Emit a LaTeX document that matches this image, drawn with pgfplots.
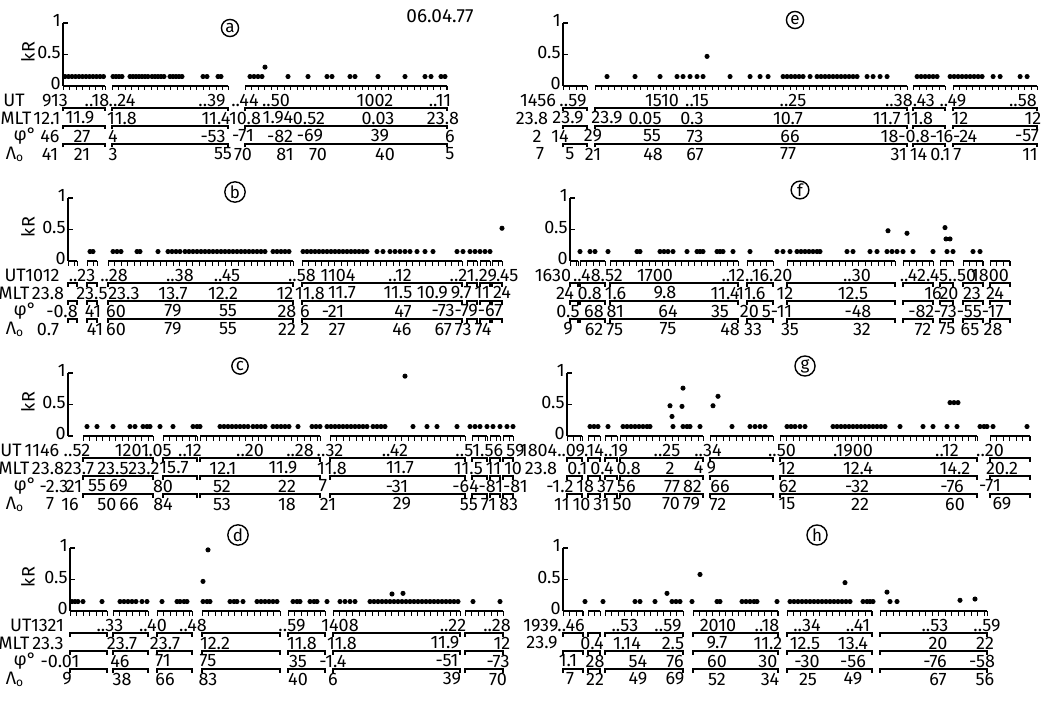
\documentclass[border=0pt]{standalone}
\usepackage{fontspec}
\setmainfont{Fira Sans}[Numbers=Proportional]
\usepackage{pgfplots}
\pgfplotsset{compat=1.18}
\newcommand{\lf}{\fontsize{9}{9.5}\selectfont}
\tikzset{lab/.style={font=\lf, inner sep=0pt},
  axl/.style={line width=0.8pt},
  tkl/.style={line width=0.5pt},
  brl/.style={line width=0.55pt}}
\pgfplotsset{panel/.style={scale only axis, axis x line=none, axis y line*=left,
  xtick=\empty, ymin=0, ymax=1, ytick={0,0.5,1}, yticklabels={0,0.5,1},
  height=31.5pt, anchor=south west, clip=false,
  axis line style={line width=0.8pt}, tick style={black, line width=0.6pt},
  major tick length=2.5pt, yticklabel style={font=\lf, inner sep=1pt, yshift=1.2pt}},
  dots/.style={only marks, mark=*, mark size=1.05pt, black}}
\newcommand\row[2]{\foreach \x/\t in {#2}{\node[lab] at (\x,#1) {\t};}}
\newcommand\panelann[2]{%
 \foreach \a/\b in {#2}{%
   \draw[axl] (\a,#1) -- (\b,#1);
   \pgfmathtruncatemacro\nt{(\b-\a)/6.5}
   \foreach \i in {0,...,\nt}{\draw[tkl] ({\a+\i*6.5},#1) -- ({\a+\i*6.5},{#1+4.5});}
   \draw[tkl] (\b,#1) -- (\b,{#1+4.5});
   \foreach \d in {22,40,58}{\draw[brl] (\a,{#1+\d+3.5}) -- (\a,{#1+\d}) -- (\b,{#1+\d}) -- (\b,{#1+\d+3.5});}
 }}
\begin{document}
\begin{tikzpicture}
\useasboundingbox (0,0) rectangle (528pt,-350.5pt);
% ---------- panel a
\begin{axis}[panel, at={(31.5pt,-43pt)}, width=192pt, xmin=63, xmax=447]
\addplot[dots] coordinates {(65,0.15)(68.5,0.15)(72,0.15)(75.5,0.15)(79,0.15)(82.5,0.15)(86,0.15)(89.5,0.15)(93,0.15)(96.5,0.15)(100,0.15)(103.5,0.15)
(113,0.15)(116,0.15)(119,0.15)(122,0.15)(130,0.15)(133,0.15)(136,0.15)(139,0.15)(142,0.15)(145,0.15)(148,0.15)
(152,0.15)(155,0.15)(158,0.15)(161,0.15)(164,0.15)(170,0.15)(173,0.15)(176,0.15)(179,0.15)(182,0.15)
(203,0.15)(207,0.15)(218,0.15)(221,0.15)(250,0.15)(254,0.15)(258,0.15)(262,0.15)(265,0.3)
(288,0.15)(308,0.15)(327,0.15)(332,0.15)(350,0.15)(355,0.15)(378,0.15)(405,0.15)(425,0.15)(431,0.15)(441,0.15)(445,0.15)};
\end{axis}
% ---------- panel b
\begin{axis}[panel, at={(34pt,-130.5pt)}, width=217pt, xmin=68, xmax=502]
\addplot[dots] coordinates {(90,0.15)(93,0.15)(113,0.15)(117,0.15)(121,0.15)(137,0.15)(140,0.15)(158,0.15)(168,0.15)(172,0.15)(176,0.15)(180,0.15)
(185,0.15)(189,0.15)(193,0.15)(197,0.15)(201,0.15)(205,0.15)(209,0.15)(213,0.15)(217,0.15)(221,0.15)(225,0.15)(229,0.15)(233,0.15)(237,0.15)(241,0.15)(245,0.15)(249,0.15)(253,0.15)(257,0.15)(261,0.15)(265,0.15)
(273,0.15)(277,0.15)(281,0.15)(285,0.15)(289,0.15)
(303,0.15)(307,0.15)(311,0.15)(315,0.15)(319,0.15)(323,0.15)(327,0.15)(331,0.15)(335,0.15)(339,0.15)(343,0.15)(347,0.15)(351,0.15)(355,0.15)(359,0.15)(363,0.15)(367,0.15)
(377,0.15)(383,0.15)(390,0.15)(395,0.15)(400,0.15)(405,0.15)(410,0.15)(417,0.15)(425,0.15)(433,0.15)(457,0.15)(463,0.15)
(470,0.15)(475,0.15)(480,0.15)(485,0.15)(490,0.15)(502,0.52)};
\end{axis}
% ---------- panel c
\begin{axis}[panel, at={(34pt,-218pt)}, width=222.5pt, xmin=68, xmax=513]
\addplot[dots] coordinates {(87,0.15)(97,0.15)(113,0.15)(130,0.15)(135,0.15)(143,0.15)(147,0.15)(150,0.15)(160,0.15)(173,0.15)(193,0.15)(197,0.15)(200,0.15)
(220,0.15)(224,0.15)(228,0.15)(232,0.15)(236,0.15)(240,0.15)(244,0.15)(248,0.15)(253,0.15)(257,0.15)(261,0.15)(265,0.15)
(273,0.15)(277,0.15)(281,0.15)(285,0.15)(289,0.15)(298,0.15)(312,0.15)(316,0.15)(320,0.15)
(327,0.15)(331,0.15)(335,0.15)(339,0.15)(343,0.15)(347,0.15)(351,0.15)(355,0.15)(359,0.15)(363,0.15)(367,0.15)
(373,0.15)(377,0.15)(381,0.15)(385,0.15)(413,0.15)(427,0.15)(437,0.15)(457,0.15)(470,0.15)(475,0.15)(480,0.15)
(487,0.15)(493,0.15)(500,0.15)(507,0.15)(513,0.15)(405,0.95)};
\end{axis}
% ---------- panel d
\begin{axis}[panel, at={(35pt,-305.5pt)}, width=216.5pt, xmin=70, xmax=503]
\addplot[dots] coordinates {(72,0.15)(75,0.15)(78,0.15)(83,0.15)(102,0.15)(120,0.15)(124,0.15)(128,0.15)(132,0.15)(136,0.15)(142,0.15)(147,0.15)
(162,0.15)(177,0.15)(180,0.15)(184,0.15)(187,0.15)(203,0.15)(207,0.15)(210,0.15)(230,0.15)(234,0.15)(237,0.15)(243,0.15)
(257,0.15)(261,0.15)(265,0.15)(269,0.15)(273,0.15)(277,0.15)(293,0.15)(297,0.15)(300,0.15)(310,0.15)(314,0.15)(317,0.15)(327,0.15)
(340,0.15)(345,0.15)(350,0.15)(355,0.15)(370,0.15)(374,0.15)(378,0.15)(382,0.15)(386,0.15)(390,0.15)(394,0.15)(398,0.15)(402,0.15)(406,0.15)
(410,0.15)(414,0.15)(418,0.15)(422,0.15)(426,0.15)(430,0.15)(434,0.15)(438,0.15)(442,0.15)(446,0.15)(450,0.15)(454,0.15)(458,0.15)
(473,0.15)(500,0.15)(208,0.97)(203,0.47)(392,0.27)(403,0.28)};
\end{axis}
% ---------- panel e
\begin{axis}[panel, at={(281.5pt,-43pt)}, width=237pt, xmin=563, xmax=1037]
\addplot[dots] coordinates {(607,0.15)(635,0.15)(660,0.15)(677,0.15)(683,0.15)(690,0.15)(697,0.15)(703,0.15)(707,0.47)
(730,0.15)(750,0.15)(760,0.15)(768,0.15)(783,0.15)(787,0.15)(791,0.15)(795,0.15)(799,0.15)(803,0.15)(810,0.15)
(817,0.15)(821,0.15)(825,0.15)(829,0.15)(833,0.15)(837,0.15)(841,0.15)(845,0.15)(849,0.15)(853,0.15)(857,0.15)
(867,0.15)(873,0.15)(880,0.15)(887,0.15)(917,0.15)(921,0.15)(925,0.15)(929,0.15)(933,0.15)(937,0.15)
(950,0.15)(954,0.15)(958,0.15)(962,0.15)(966,0.15)(970,0.15)(974,0.15)(978,0.15)(982,0.15)(993,0.15)(1000,0.15)(1020,0.15)(1027,0.15)};
\end{axis}
% ---------- panel f
\begin{axis}[panel, at={(285pt,-130.5pt)}, width=220pt, xmin=570, xmax=1010]
\addplot[dots] coordinates {(580,0.15)(590,0.15)(595,0.15)(608,0.15)(637,0.15)(640,0.15)(660,0.15)(664,0.15)(668,0.15)(673,0.15)(687,0.15)
(697,0.15)(700,0.15)(703,0.15)(717,0.15)(720,0.15)(723,0.15)(733,0.15)(750,0.15)(777,0.15)(783,0.15)(790,0.15)
(797,0.15)(801,0.15)(805,0.15)(809,0.15)(813,0.15)(817,0.15)(820,0.15)(847,0.15)(853,0.15)(870,0.15)(877,0.15)
(887,0.15)(892,0.15)(897,0.15)(903,0.15)(913,0.15)(933,0.15)(947,0.15)(953,0.15)(973,0.15)(980,0.15)
(888,0.48)(907,0.44)(945,0.53)(946,0.35)(950,0.35)};
\end{axis}
% ---------- panel g
\begin{axis}[panel, at={(283.5pt,-218pt)}, width=231.5pt, xmin=567, xmax=1030]
\addplot[dots] coordinates {(590,0.15)(594,0.15)(598,0.15)(608,0.15)(623,0.15)(627,0.15)(631,0.15)(635,0.15)(639,0.15)(643,0.15)(647,0.15)(650,0.15)
(673,0.15)(683,0.15)(687,0.15)(690,0.15)(700,0.15)(732,0.15)(750,0.15)(755,0.15)(760,0.15)(765,0.15)
(787,0.15)(791,0.15)(795,0.15)(800,0.15)(805,0.15)(833,0.15)(837,0.15)(841,0.15)(845,0.15)(849,0.15)(853,0.15)(857,0.15)
(861,0.15)(865,0.15)(869,0.15)(873,0.15)(877,0.15)(881,0.15)(885,0.15)(900,0.15)(923,0.15)(933,0.15)(947,0.15)(957,0.15)
(980,0.15)(984,0.15)(987,0.15)(993,0.15)(1027,0.15)
(670,0.48)(672,0.31)(682,0.47)(683,0.76)(713,0.48)(718,0.63)(950,0.53)(954,0.53)(958,0.53)};
\end{axis}
% ---------- panel h
\begin{axis}[panel, at={(281.5pt,-305.5pt)}, width=212pt, xmin=563, xmax=987]
\addplot[dots] coordinates {(585,0.15)(603,0.15)(635,0.15)(640,0.15)(655,0.15)(672,0.15)(676,0.15)(680,0.15)(692,0.15)(717,0.15)(720,0.15)
(742,0.15)(746,0.15)(750,0.15)(754,0.15)(757,0.15)(777,0.15)(790,0.15)(794,0.15)(798,0.15)(802,0.15)(806,0.15)(810,0.15)
(814,0.15)(818,0.15)(822,0.15)(826,0.15)(830,0.15)(834,0.15)(838,0.15)(842,0.15)(846,0.15)(850,0.15)
(863,0.15)(867,0.15)(870,0.15)(873,0.15)(890,0.15)(897,0.15)(960,0.17)(975,0.19)
(667,0.28)(700,0.58)(845,0.45)(887,0.3)};
\end{axis}
% ---------- annotations in pixel units
\begin{scope}[x=0.5pt,y=-0.5pt]
\panelann{86}{63/105,112/228,245/447}
\panelann{261}{68/77,87/97,108/293,302/462,467/477,480/490,492/502}
\panelann{436}{83/153,163/197,200/320,330/465,472/487,490/500,503/513}
\panelann{611}{70/107,113/148,157/192,202/280,288/325,333/460,465/503}
\panelann{86}{563/587,595/907,913/945,953/1037}
\panelann{261}{570/578,580/605,610/738,747/773,787/895,903/933,940/953,963/983,990/1010}
\panelann{436}{567/582,588/600,605/617,620/703,710/773,780/977,990/1030}
\panelann{611}{563/583,588/600,605/683,693/778,787/872,880/987}
% kR labels and row symbols
\foreach \y in {86,261,436,611}{%
  \node[lab,rotate=90] at (28,{\y-34}) {kR};
  \node[lab] at (25,{\y+50}) {φ°};
  \node[lab] at (15,{\y+68}) {Λ\textsubscript{o}};}
% panel letters
\foreach \x/\y/\l in {230/28/a,795/20/e,235/192/b,800/190/f,240/366/c,805/366/g,238/535/d,817/535/h}{%
  \node[draw,circle,inner sep=0.7pt,line width=0.7pt,font=\fontsize{8.5}{8.5}\selectfont] at (\x,\y) {\l};}
\node[font=\fontsize{9.5}{9.5}\selectfont, inner sep=0] at (440,16) {06.04.77};
% panel a rows
\row{100.5}{14/UT, 55/913, 97/..18, 122/..24, 212/..39, 245/..44, 276/..50, 375/1002, 440/..11}
\row{118}{16/MLT, 47/12.1, 80/11.9, 122/11.8, 216/11.4, 245/10.8, 278/1.94, 309/0.52, 378/0.03, 443/23.8}
\row{136}{50/46, 82/27, 113/4, 213/-53, 243/-71, 280/-82, 310/-69, 380/39, 450/6}
\row{154}{50/41, 82/21, 113/3, 223/55, 243/70, 285/81, 318/70, 385/40, 450/5}
% panel b rows
\row{275.5}{32/UT1012, 82/..23, 114/..28, 180/..38, 227/..45, 302/..58, 338/1104, 400/..12, 484/..21.29.45}
\row{293}{14/MLT, 48/23.8, 92/23.5, 124/23.3, 173/13.7, 223/12.2, 285/12, 310/11.8, 342/11.7, 398/11.5, 464/10.9\,9.7\,11\,24}
\row{311}{62/-0.8, 93/41, 116/60, 173/79, 228/55, 287/28, 305/6, 333/-21, 403/47, 467/-73-79-67}
\row{329}{48/0.7, 95/41, 116/60, 173/79, 228/55, 287/22, 305/2, 337/27, 402/46, 463/67\,73\,74}
% panel c rows
\row{450.5}{11/UT, 42/1146, 77/..52, 132/1201, 158/..05, 190/..12, 250/..20, 300/..28, 330/..32, 395/..42, 490/..51.56\,59}
\row{468}{14/MLT, 48/23.8, 79/23.7, 113/23.5, 144/23.2, 174/15.7, 223/12.1, 283/11.9, 332/11.8, 400/11.7, 488/11.5\,11\,10}
\row{486}{54/-2.3, 74/21, 108/55\,69, 163/80, 222/52, 287/22, 323/7, 397/-31, 490/-64-81-81}
\row{504}{50/7, 70/16, 118/50\,66, 163/84, 222/53, 287/18, 328/21, 402/29, 489/55\,71\,83}
% panel d rows
\row{625.5}{37/UT1321, 110/..33, 153/..40, 193/..48, 292/..59, 340/1408, 453/..22, 497/..28}
\row{643}{14/MLT, 48/23.3, 122/23.7, 165/23.7, 215/12.2, 302/11.8, 342/11.8, 445/11.9, 502/12}
\row{661}{60/-0.01, 120/46, 163/71, 208/75, 298/35, 333/-1.4, 447/-51, 498/-73}
\row{679}{67/9, 122/38, 165/66, 208/83, 298/40, 333/6, 452/39, 498/70}
% panel e rows
\row{100.5}{538/1456, 573/..59, 662/1510, 697/..15, 793/..25, 910/..38.43, 953/..49, 1023/..58}
\row{118}{532/23.8, 568/23.9, 607/23.9, 645/0.05, 692/0.3, 788/10.7, 903/11.7\,11.8, 960/12, 1033/12}
\row{136}{537/2, 560/14, 593/29, 652/55, 695/73, 790/66, 929/18-0.8-16-24, 1027/-57}
\row{154}{540/7, 570/5, 593/21, 653/48, 695/67, 788/77, 926/31\,14\,0.1\,7, 1030/11}
% panel f rows
\row{275.5}{553/1630, 598/..48.52, 655/1700, 757/..12..16.20, 857/..30, 938/..42.45..50, 990/1800}
\row{293}{565/24, 602/0.8\,1.6, 665/9.8, 725/11.4, 751/11.6, 785/12, 853/12.5, 933/16, 949/20, 972/23, 995/24}
\row{311}{568/0.5, 604/68\,81, 668/64, 720/35, 766/20\,5-11, 858/-48, 956/-82-73-55-17}
\row{329}{568/9, 604/62\,75, 668/75, 730/48, 753/33, 790/35, 862/32, 923/72, 947/75, 970/65, 993/28}
% panel g rows
\row{450.5}{574/1804..09.14..19, 667/..25, 708/..34, 782/..50, 853/.1900, 947/..12, 990/..20}
\row{468}{541/23.8, 604/0.1\,0.4\,0.8, 670/2, 705/4\,9, 787/12, 858/12.4, 955/14.2, 1002/20.2}
\row{486}{560/-1.2, 606/18\,37\,56, 683/77\,82, 720/66, 788/62, 857/-32, 952/-76, 990/-71}
\row{504}{593/11\,10\,31\,50, 681/70\,79, 718/72, 787/15, 860/22, 955/60, 1002/69}
% panel h rows
\row{625.5}{554/1939..46, 625/..53, 668/..59, 718/2010, 767/..18, 807/..34, 858/..41, 935/..53, 987/..59}
\row{643}{542/23.9, 592/0.4, 627/1.14, 673/2.5, 717/9.7, 768/11.2, 805/12.5, 853/13.4, 938/20, 985/22}
\row{661}{568/1.1, 595/28, 638/54, 675/76, 717/60, 768/30, 807/-30, 853/-56, 935/-76, 982/-58}
\row{679}{570/7, 595/22, 638/49, 675/69, 717/52, 770/34, 808/25, 853/49, 938/67, 985/56}
\end{scope}
\end{tikzpicture}
\end{document}
